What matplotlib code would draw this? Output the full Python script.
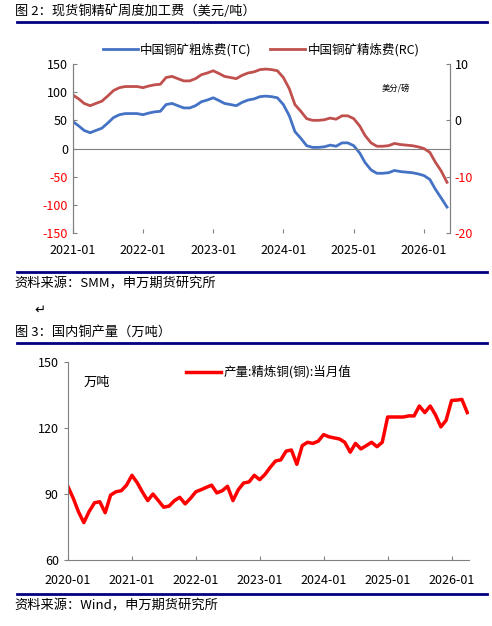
import numpy as np
import pandas as pd
import matplotlib
matplotlib.use("Agg")
import matplotlib.pyplot as plt
import matplotlib.dates as mdates

plt.rcParams['font.family'] = ['Noto Sans CJK SC', 'DejaVu Sans']
plt.rcParams['axes.unicode_minus'] = False

# 图2: 铜精矿加工费 (monthly, 2021-01 .. 2026-05)
tc = [48, 40, 32, 28, 32, 36, 45, 55, 60, 62, 62, 62,
      60, 63, 65, 66, 78, 80, 76, 72, 72, 76, 83, 86,
      90, 85, 80, 78, 76, 82, 86, 88, 92, 93, 92, 90,
      78, 58, 30, 18, 5, 2, 2, 3, 6, 4, 10, 10,
      5, -8, -25, -38, -44, -44, -43, -39, -41, -42, -43, -45,
      -48, -55, -72, -88, -104]
rc = [4.5, 3.8, 3.0, 2.6, 3.0, 3.4, 4.3, 5.3, 5.8, 6.0, 6.0, 6.0,
      5.8, 6.1, 6.3, 6.4, 7.6, 7.8, 7.4, 7.0, 7.0, 7.4, 8.1, 8.4,
      8.8, 8.3, 7.8, 7.6, 7.4, 8.0, 8.4, 8.6, 9.0, 9.1, 9.0, 8.8,
      7.6, 5.6, 2.8, 1.6, 0.3, 0.0, 0.0, 0.1, 0.4, 0.2, 0.8, 0.8,
      0.3, -1.0, -2.7, -4.0, -4.6, -4.6, -4.5, -4.1, -4.3, -4.4, -4.5, -4.7,
      -5.0, -5.7, -7.4, -9.0, -11.0]
# 图3: 精炼铜产量 (monthly, 2020-01 .. 2026-04)
output = [93.4, 88, 82, 77, 82, 86, 86.5, 81.5, 89.5, 91, 91.5, 94,
          98.5, 95, 91, 87, 90, 87, 84, 84.5, 87, 88.5, 85.5, 88,
          91, 92, 93, 94, 90.5, 91.5, 93.5, 87, 92, 95, 95.5, 98.5,
          96.5, 99, 102, 105, 105.5, 109.5, 110, 103.5, 112, 113.5, 113, 114,
          117, 116, 115.5, 115, 113.5, 109, 113, 110.5, 112, 113.5, 111.5, 113.5,
          125, 125, 125, 125, 125.5, 125.5, 130, 127, 130, 126, 120.5, 123.5,
          132.5, 132.7, 133, 127]

navy = '#000080'
blue = '#4472C4'
red = '#C0504D'

fig = plt.figure(figsize=(4.92, 6.26), dpi=100)

def hline(y):
    fig.add_artist(plt.Line2D([0.035, 0.99], [1 - y / 626, 1 - y / 626], color=navy, lw=2))

def caption(y, s, x=0.03):
    fig.text(x, 1 - y / 626, s, fontsize=9.5, va='center', ha='left')

caption(11, '图 2：现货铜精矿周度加工费（美元/吨）')
hline(22)
hline(272)
caption(284, '资料来源：SMM，申万期货研究所')
caption(310, '↵', x=0.07)
caption(332, '图 3：国内铜产量（万吨）')
hline(343)
hline(594)
caption(606, '资料来源：Wind，申万期货研究所')

# top chart
ax = fig.add_axes([0.148, 1 - 233 / 626, 0.766, 169 / 626])
d1 = pd.date_range('2021-01-01', periods=len(tc), freq='MS')
l1, = ax.plot(d1, tc, color=blue, lw=2)
ax2 = ax.twinx()
l2, = ax2.plot(d1, rc, color=red, lw=2)
ax.set_ylim(-150, 150)
ax.set_yticks(range(-150, 151, 50))
ax2.set_ylim(-20, 10)
ax2.set_yticks([-20, -10, 0, 10])
ax.set_xlim(pd.Timestamp('2021-01-01'), pd.Timestamp('2026-05-15'))
ax.xaxis.set_major_locator(mdates.YearLocator())
ax.xaxis.set_major_formatter(mdates.DateFormatter('%Y-%m'))
ax.axhline(0, color='#808080', lw=0.8)
for a in (ax, ax2):
    a.spines['top'].set_visible(False)
    for s in a.spines.values():
        s.set_color('#808080')
    a.tick_params(labelsize=9, color='#808080', length=3)
ax.spines['bottom'].set_visible(False)
ax2.spines['bottom'].set_visible(False)
ax.tick_params(axis='x', direction='in', length=3, pad=8)
ax.tick_params(axis='y', direction='in')
ax2.tick_params(axis='y', direction='in')
for t, v in zip(ax.get_yticklabels(), ax.get_yticks()):
    t.set_color('red' if v < 0 else 'black')
for t, v in zip(ax2.get_yticklabels(), ax2.get_yticks()):
    t.set_color('red' if v < 0 else 'black')
ax.text(0.82, 0.84, '美分/磅', transform=ax.transAxes, fontsize=6)
ax.legend([l1, l2], ['中国铜矿粗炼费(TC)', '中国铜矿精炼费(RC)'], loc='lower center',
          bbox_to_anchor=(0.5, 0.98), ncol=2, frameon=False, fontsize=9,
          handlelength=2.8, columnspacing=1.5, handletextpad=0.2)

# bottom chart
bx = fig.add_axes([0.138, 1 - 560 / 626, 0.815, 198 / 626])
d2 = pd.date_range('2020-01-01', periods=len(output), freq='MS')
bx.plot(d2, output, color='red', lw=2.5, label='产量:精炼铜(铜):当月值')
bx.set_ylim(60, 150)
bx.set_yticks([60, 90, 120, 150])
bx.set_xlim(pd.Timestamp('2020-01-01'), pd.Timestamp('2026-04-10'))
bx.xaxis.set_major_locator(mdates.YearLocator())
bx.xaxis.set_major_formatter(mdates.DateFormatter('%Y-%m'))
bx.spines['top'].set_visible(False)
bx.spines['right'].set_visible(False)
for s in bx.spines.values():
    s.set_color('#808080')
bx.tick_params(labelsize=9, color='#808080', length=3)
bx.tick_params(axis='x', direction='in', length=3, pad=10)
bx.text(0.04, 0.88, '万吨', transform=bx.transAxes, fontsize=9.5)
bx.legend(loc='upper center', bbox_to_anchor=(0.5, 1.04), frameon=False, fontsize=9,
          handlelength=2.8, handletextpad=0.2)

fig.savefig('out.png', dpi=100)
